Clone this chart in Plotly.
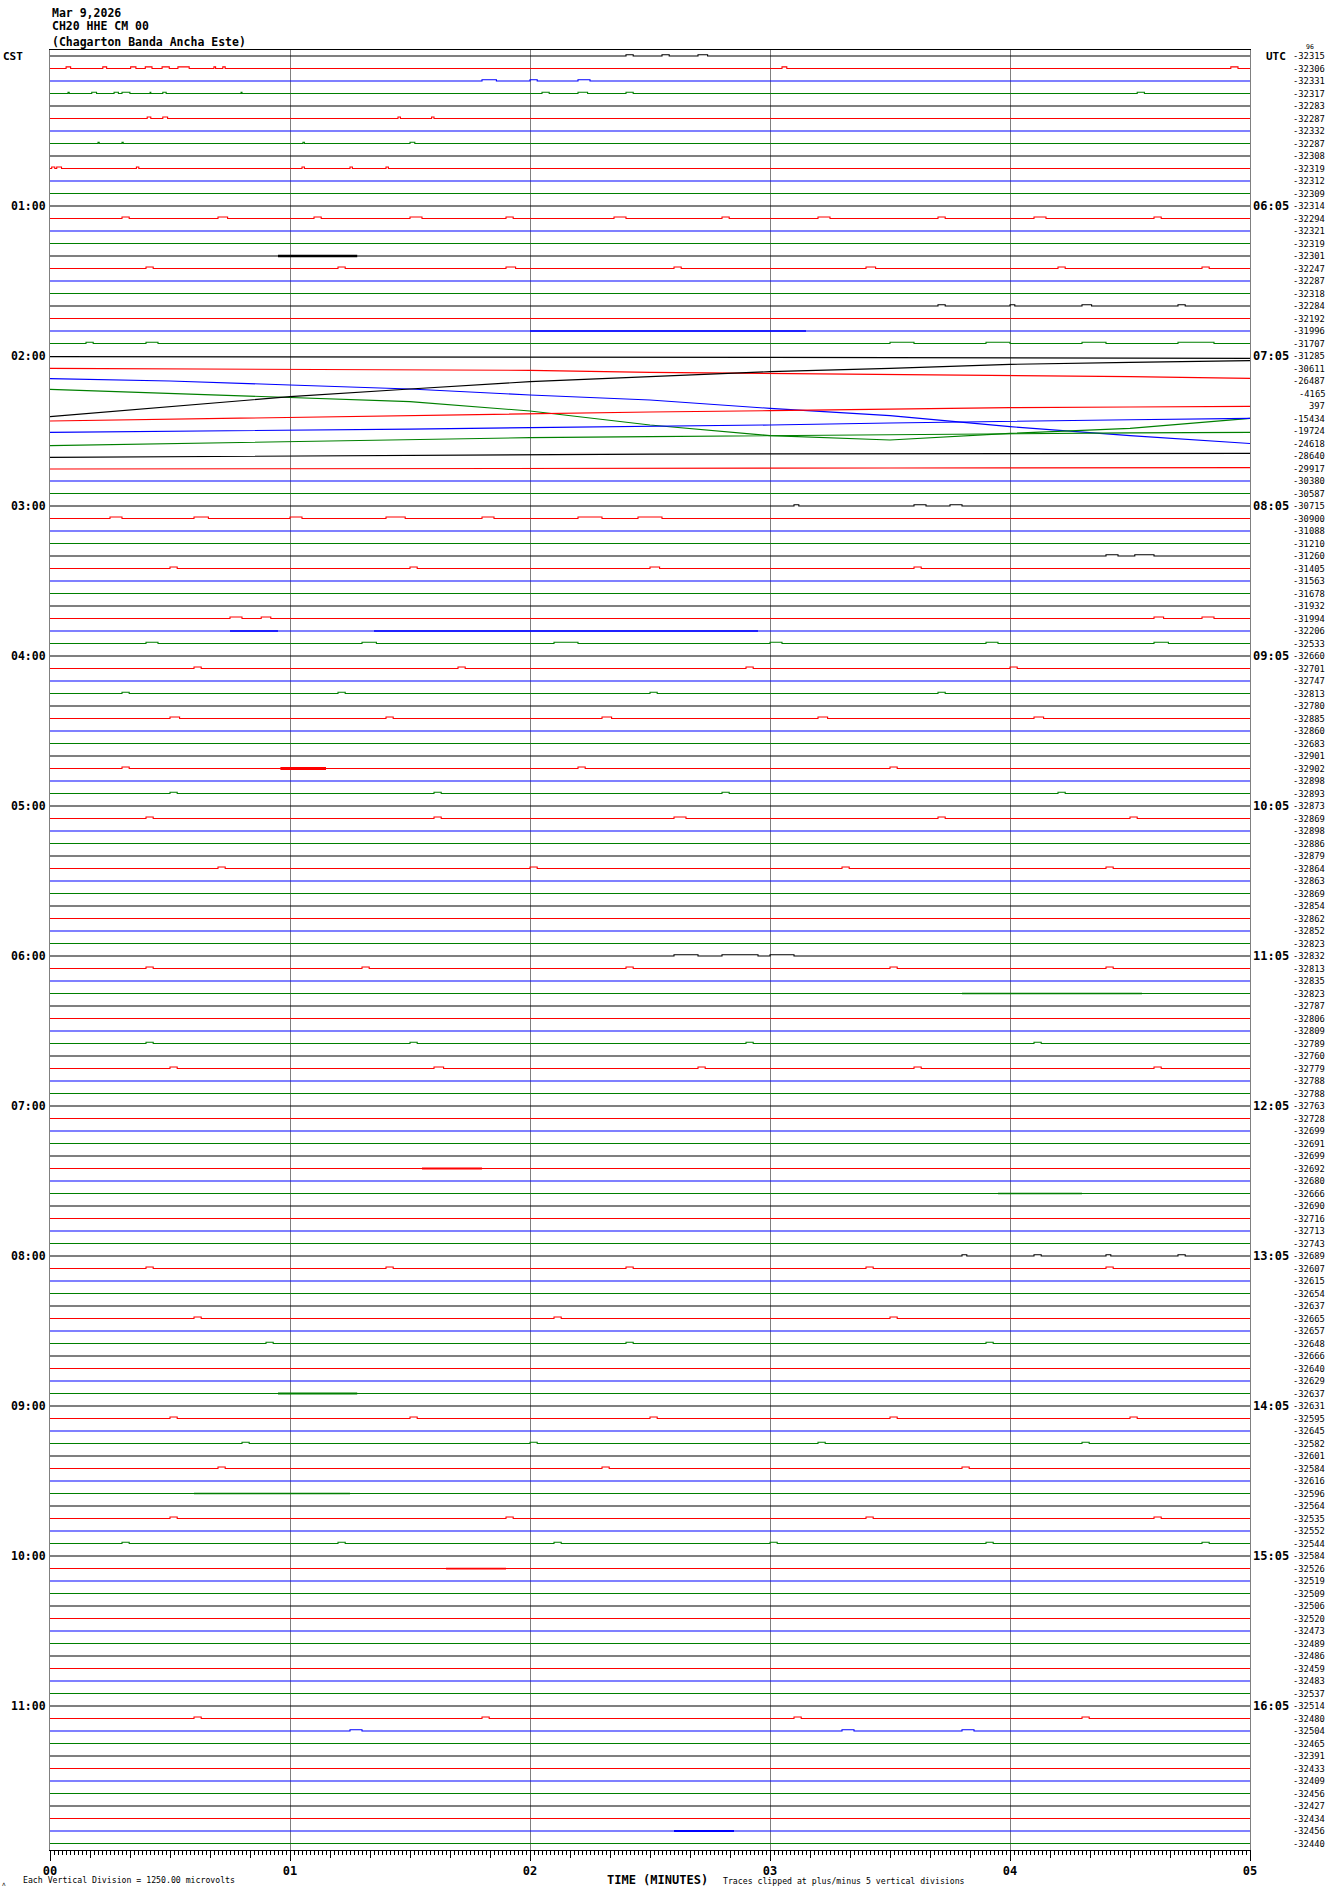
import plotly.graph_objects as go

# ---------------- data ----------------
N_ROWS = 144
ROW_COLORS = ["#000000", "#ff0000", "#0000ff", "#008000"]

RIGHT_VALUES = [
    -32315, -32306, -32331, -32317, -32283, -32287, -32332, -32287, -32308, -32319, -32312, -32309,
    -32314, -32294, -32321, -32319, -32301, -32247, -32287, -32318, -32284, -32192, -31996, -31707,
    -31285, -30611, -26487, -4165, 397, -15434, -19724, -24618, -28640, -29917, -30380, -30587,
    -30715, -30900, -31088, -31210, -31260, -31405, -31563, -31678, -31932, -31994, -32206, -32533,
    -32660, -32701, -32747, -32813, -32780, -32885, -32860, -32683, -32901, -32902, -32898, -32893,
    -32873, -32869, -32898, -32886, -32879, -32864, -32863, -32869, -32854, -32862, -32852, -32823,
    -32832, -32813, -32835, -32823, -32787, -32806, -32809, -32789, -32760, -32779, -32788, -32788,
    -32763, -32728, -32699, -32691, -32699, -32692, -32680, -32666, -32690, -32716, -32713, -32743,
    -32689, -32607, -32615, -32654, -32637, -32665, -32657, -32648, -32666, -32640, -32629, -32637,
    -32631, -32595, -32645, -32582, -32601, -32584, -32616, -32596, -32564, -32535, -32552, -32544,
    -32584, -32526, -32519, -32509, -32506, -32520, -32473, -32489, -32486, -32459, -32483, -32537,
    -32514, -32480, -32504, -32465, -32391, -32433, -32409, -32456, -32427, -32434, -32456, -32440,
]

HOUR_ROWS = [12, 24, 36, 48, 60, 72, 84, 96, 108, 120, 132]
LEFT_HOURS = ["01:00", "02:00", "03:00", "04:00", "05:00", "06:00",
              "07:00", "08:00", "09:00", "10:00", "11:00"]
RIGHT_HOURS = ["06:05", "07:05", "08:05", "09:05", "10:05", "11:05",
               "12:05", "13:05", "14:05", "15:05", "16:05"]

X_TICKS = [0, 1, 2, 3, 4, 5]
X_TICK_TEXT = ["00", "01", "02", "03", "04", "05"]

# slow drifting rows (offset in vertical divisions, read every half minute)
DRIFT_TIMES = [0, 0.5, 1, 1.5, 2, 2.5, 3, 3.5, 4, 4.5, 5]
DRIFT_24 = [-0.05, -0.05, -0.06, -0.07, -0.08, -0.09, -0.11, -0.13, -0.15, -0.17, -0.19]
DRIFT_25 = [0.01, -0.03, -0.07, -0.10, -0.15, -0.31, -0.39, -0.44, -0.52, -0.65, -0.79]
DRIFT_26 = [0.19, 0.0, -0.32, -0.64, -1.12, -1.52, -2.19, -2.77, -3.65, -4.37, -5.0]
DRIFT_27 = [0.33, 0.01, -0.31, -0.65, -1.40, -2.52, -3.37, -3.72, -3.19, -2.79, -1.99]
DRIFT_28 = [-0.85, -0.05, 0.75, 1.36, 1.95, 2.35, 2.75, 3.01, 3.33, 3.49, 3.63]
DRIFT_29 = [-0.20, -0.05, 0.09, 0.25, 0.41, 0.52, 0.63, 0.75, 0.87, 0.92, 0.97]
DRIFT_30 = [-0.11, -0.04, 0.03, 0.15, 0.27, 0.37, 0.48, 0.64, 0.80, 0.90, 1.01]
DRIFT_31 = [-0.17, -0.01, 0.15, 0.31, 0.47, 0.55, 0.63, 0.72, 0.81, 0.85, 0.89]
DRIFT_32 = [-0.11, -0.05, 0.0, 0.07, 0.13, 0.15, 0.17, 0.18, 0.19, 0.20, 0.21]
DRIFT_33 = [-0.04, -0.02, -0.01, 0.0, 0.01, 0.02, 0.03, 0.04, 0.05, 0.06, 0.07]
DRIFT_ROWS = {24: DRIFT_24, 25: DRIFT_25, 26: DRIFT_26, 27: DRIFT_27, 28: DRIFT_28,
              29: DRIFT_29, 30: DRIFT_30, 31: DRIFT_31, 32: DRIFT_32, 33: DRIFT_33}

# small step blips: (row, start minute, end minute, amplitude in divisions)
BLIPS = [
    (0, 2.40, 2.43, 0.10), (0, 2.55, 2.58, 0.10), (0, 2.70, 2.74, 0.10),
    (1, 0.067, 0.086, 0.13), (1, 0.22, 0.236, 0.13), (1, 0.336, 0.358, 0.13), (1, 0.397, 0.425, 0.13),
    (1, 0.467, 0.497, 0.13), (1, 0.533, 0.58, 0.13), (1, 0.683, 0.69, 0.13), (1, 0.72, 0.73, 0.13),
    (1, 3.05, 3.07, 0.13), (1, 4.92, 4.95, 0.13),
    (2, 1.80, 1.86, 0.10), (2, 2.00, 2.03, 0.10), (2, 2.20, 2.25, 0.10),
    (3, 0.075, 0.08, 0.10), (3, 0.174, 0.194, 0.10), (3, 0.267, 0.285, 0.10), (3, 0.30, 0.333, 0.10),
    (3, 0.417, 0.42, 0.10), (3, 0.47, 0.484, 0.10), (3, 0.796, 0.80, 0.10), (3, 2.05, 2.08, 0.10),
    (3, 2.20, 2.24, 0.10), (3, 2.40, 2.43, 0.10), (3, 4.53, 4.56, 0.10),
    (5, 0.405, 0.42, 0.12), (5, 0.47, 0.49, 0.12), (5, 1.45, 1.46, 0.12), (5, 1.59, 1.60, 0.12),
    (7, 0.20, 0.205, 0.10), (7, 0.30, 0.305, 0.10), (7, 1.054, 1.06, 0.10), (7, 1.50, 1.52, 0.10),
    (9, 0.007, 0.02, 0.12), (9, 0.028, 0.048, 0.12), (9, 0.36, 0.37, 0.12), (9, 1.05, 1.06, 0.12),
    (9, 1.25, 1.26, 0.12), (9, 1.40, 1.41, 0.12),
    (13, 0.30, 0.33, 0.12), (13, 0.70, 0.74, 0.12), (13, 1.10, 1.13, 0.12), (13, 1.50, 1.55, 0.12),
    (13, 1.90, 1.93, 0.12), (13, 2.35, 2.40, 0.12), (13, 2.80, 2.83, 0.12), (13, 3.20, 3.25, 0.12),
    (13, 3.70, 3.73, 0.12), (13, 4.10, 4.15, 0.12), (13, 4.60, 4.63, 0.12),
    (17, 0.40, 0.43, 0.12), (17, 1.20, 1.23, 0.12), (17, 1.90, 1.94, 0.12), (17, 2.60, 2.63, 0.12),
    (17, 3.40, 3.44, 0.12), (17, 4.20, 4.23, 0.12), (17, 4.80, 4.83, 0.12),
    (20, 3.70, 3.73, 0.10), (20, 4.00, 4.02, 0.10), (20, 4.30, 4.34, 0.10), (20, 4.70, 4.73, 0.10),
    (23, 0.15, 0.18, 0.10), (23, 0.40, 0.45, 0.10), (23, 3.50, 3.60, 0.10), (23, 3.90, 4.00, 0.10),
    (23, 4.30, 4.40, 0.10), (23, 4.70, 4.85, 0.10),
    (36, 3.10, 3.12, 0.10), (36, 3.60, 3.65, 0.10), (36, 3.75, 3.80, 0.10),
    (37, 0.25, 0.30, 0.12), (37, 0.60, 0.66, 0.12), (37, 1.00, 1.05, 0.12), (37, 1.40, 1.48, 0.12),
    (37, 1.80, 1.85, 0.12), (37, 2.20, 2.30, 0.12), (37, 2.45, 2.55, 0.12),
    (40, 4.40, 4.45, 0.10), (40, 4.52, 4.60, 0.10),
    (41, 0.50, 0.53, 0.12), (41, 1.50, 1.53, 0.12), (41, 2.50, 2.54, 0.12), (41, 3.60, 3.63, 0.12),
    (45, 0.75, 0.80, 0.12), (45, 0.88, 0.92, 0.12), (45, 4.60, 4.64, 0.12), (45, 4.80, 4.85, 0.12),
    (47, 0.40, 0.45, 0.10), (47, 1.30, 1.36, 0.10), (47, 2.10, 2.20, 0.10), (47, 3.00, 3.05, 0.10),
    (47, 3.90, 3.95, 0.10), (47, 4.60, 4.66, 0.10),
    (49, 0.60, 0.63, 0.12), (49, 1.70, 1.73, 0.12), (49, 2.90, 2.93, 0.12), (49, 4.00, 4.03, 0.12),
    (51, 0.30, 0.33, 0.10), (51, 1.20, 1.23, 0.10), (51, 2.50, 2.53, 0.10), (51, 3.70, 3.73, 0.10),
    (53, 0.50, 0.54, 0.12), (53, 1.40, 1.43, 0.12), (53, 2.30, 2.34, 0.12), (53, 3.20, 3.24, 0.12),
    (53, 4.10, 4.14, 0.12),
    (57, 0.30, 0.33, 0.12), (57, 2.20, 2.23, 0.12), (57, 3.50, 3.53, 0.12),
    (59, 0.50, 0.53, 0.10), (59, 1.60, 1.63, 0.10), (59, 2.80, 2.83, 0.10), (59, 4.20, 4.23, 0.10),
    (61, 0.40, 0.43, 0.12), (61, 1.60, 1.63, 0.12), (61, 2.60, 2.65, 0.12), (61, 3.70, 3.73, 0.12),
    (61, 4.50, 4.53, 0.12),
    (65, 0.70, 0.73, 0.12), (65, 2.00, 2.03, 0.12), (65, 3.30, 3.33, 0.12), (65, 4.40, 4.43, 0.12),
    (72, 2.60, 2.70, 0.10), (72, 2.80, 2.95, 0.10), (72, 3.00, 3.10, 0.10),
    (73, 0.40, 0.43, 0.12), (73, 1.30, 1.33, 0.12), (73, 2.40, 2.43, 0.12), (73, 3.50, 3.53, 0.12),
    (73, 4.40, 4.43, 0.12),
    (79, 0.40, 0.43, 0.10), (79, 1.50, 1.53, 0.10), (79, 2.90, 2.93, 0.10), (79, 4.10, 4.13, 0.10),
    (81, 0.50, 0.53, 0.12), (81, 1.60, 1.64, 0.12), (81, 2.70, 2.73, 0.12), (81, 3.60, 3.63, 0.12),
    (81, 4.60, 4.63, 0.12),
    (96, 3.80, 3.82, 0.10), (96, 4.10, 4.13, 0.10), (96, 4.40, 4.42, 0.10), (96, 4.70, 4.73, 0.10),
    (97, 0.40, 0.43, 0.12), (97, 1.40, 1.43, 0.12), (97, 2.40, 2.43, 0.12), (97, 3.40, 3.43, 0.12),
    (97, 4.40, 4.43, 0.12),
    (101, 0.60, 0.63, 0.12), (101, 2.10, 2.13, 0.12), (101, 3.50, 3.53, 0.12),
    (103, 0.90, 0.93, 0.10), (103, 2.40, 2.43, 0.10), (103, 3.90, 3.93, 0.10),
    (109, 0.50, 0.53, 0.12), (109, 1.50, 1.53, 0.12), (109, 2.50, 2.53, 0.12), (109, 3.50, 3.53, 0.12),
    (109, 4.50, 4.53, 0.12),
    (111, 0.80, 0.83, 0.10), (111, 2.00, 2.03, 0.10), (111, 3.20, 3.23, 0.10), (111, 4.30, 4.33, 0.10),
    (113, 0.70, 0.73, 0.12), (113, 2.30, 2.33, 0.12), (113, 3.80, 3.83, 0.12),
    (117, 0.50, 0.53, 0.12), (117, 1.90, 1.93, 0.12), (117, 3.40, 3.43, 0.12), (117, 4.60, 4.63, 0.12),
    (119, 0.30, 0.33, 0.10), (119, 1.20, 1.23, 0.10), (119, 2.10, 2.13, 0.10), (119, 3.00, 3.03, 0.10),
    (119, 3.90, 3.93, 0.10), (119, 4.80, 4.83, 0.10),
    (133, 0.60, 0.63, 0.12), (133, 1.80, 1.83, 0.12), (133, 3.10, 3.13, 0.12), (133, 4.30, 4.33, 0.12),
    (134, 1.25, 1.30, 0.10), (134, 3.30, 3.35, 0.10), (134, 3.80, 3.85, 0.10),
]

# short noisy bursts: (row, start minute, end minute, half amplitude in divisions)
BURSTS = [
    (16, 0.95, 1.28, 0.10), (22, 2.00, 3.15, 0.06), (46, 0.75, 0.95, 0.06), (46, 1.35, 2.95, 0.06),
    (57, 0.96, 1.15, 0.12), (75, 3.80, 4.55, 0.06), (89, 1.55, 1.80, 0.08), (91, 3.95, 4.30, 0.06),
    (107, 0.95, 1.28, 0.08), (115, 0.60, 1.25, 0.06), (121, 1.65, 1.90, 0.07), (142, 2.60, 2.85, 0.08),
]

# ---------------- layout geometry (pixels) ----------------
W, H = 1330, 1894
L, R, T, B = 50, 80, 50, 44
PLOT_H = H - T - B
ROW_PX = 12.5
Y_TOP = 6 / ROW_PX
Y_BOT = -(N_ROWS - 1) - (PLOT_H - 6 - (N_ROWS - 1) * ROW_PX) / ROW_PX


def ypaper(px):
    return (H - B - px) / PLOT_H


def xpaper(px):
    return (px - L) / (W - L - R)


FONT = "DejaVu Sans Mono"
GRID = "#808080"

fig = go.Figure()

# base rows
for i in range(N_ROWS):
    color = ROW_COLORS[i % 4]
    if i in DRIFT_ROWS:
        xs = DRIFT_TIMES
        ys = [-i + v for v in DRIFT_ROWS[i]]
    else:
        row_blips = sorted([b for b in BLIPS if b[0] == i], key=lambda b: b[1])
        xs, ys = [0], [-i]
        for _, t0, t1, a in row_blips:
            xs += [t0, t0, t1, t1]
            ys += [-i, -i + a, -i + a, -i]
        xs.append(5)
        ys.append(-i)
    fig.add_trace(go.Scatter(x=xs, y=ys, mode="lines", line=dict(color=color, width=1.1),
                             hoverinfo="skip", showlegend=False))

# noise bursts
for row, t0, t1, a in BURSTS:
    fig.add_trace(go.Scatter(x=[t0, t1], y=[-row, -row], mode="lines",
                             line=dict(color=ROW_COLORS[row % 4], width=2 * a * ROW_PX),
                             hoverinfo="skip", showlegend=False))

# helper trace for the 10-second tick axis
fig.add_trace(go.Scatter(x=[0, 5], y=[0, 0], xaxis="x2", mode="markers",
                         marker=dict(opacity=0), hoverinfo="skip", showlegend=False))

ann = []
for r, lab in zip(HOUR_ROWS, LEFT_HOURS):
    ann.append(dict(x=0, xref="paper", y=-r, yref="y", text=lab, showarrow=False,
                    xanchor="right", xshift=-2,
                    font=dict(family=FONT, size=11.5, color="black", weight="bold")))
for r, lab in zip(HOUR_ROWS, RIGHT_HOURS):
    ann.append(dict(x=1, xref="paper", y=-r, yref="y", text=lab, showarrow=False,
                    xanchor="left", xshift=1,
                    font=dict(family=FONT, size=12, color="black", weight="bold")))
for i, v in enumerate(RIGHT_VALUES):
    ann.append(dict(x=1, xref="paper", y=-i, yref="y", text=str(v), showarrow=False,
                    xanchor="right", xshift=77, font=dict(family=FONT, size=8.8, color="black")))

ann.append(dict(x=xpaper(1), xref="paper", y=0, yref="y", text="CST", showarrow=False,
                xanchor="left", font=dict(family=FONT, size=11, color="black", weight="bold")))
ann.append(dict(x=1, xref="paper", y=0, yref="y", text="UTC", showarrow=False, xanchor="left",
                xshift=14, font=dict(family=FONT, size=11, color="black", weight="bold")))
ann.append(dict(x=xpaper(1310), xref="paper", y=ypaper(47), yref="paper", text="96",
                showarrow=False, xanchor="center", yanchor="middle",
                font=dict(family=FONT, size=6.5, color="black")))

header = ["Mar 9,2026", "CH20 HHE CM 00", "(Chagarton Banda Ancha Este)"]
for txt, py in zip(header, [12.5, 26.5, 42]):
    ann.append(dict(x=0, xref="paper", y=ypaper(py), yref="paper", text=txt, showarrow=False,
                    xanchor="left", yanchor="middle",
                    font=dict(family=FONT, size=11.5, color="black", weight="bold")))

ann.append(dict(x=xpaper(657), xref="paper", y=ypaper(1880), yref="paper", text="TIME (MINUTES)",
                showarrow=False, xanchor="center", yanchor="middle",
                font=dict(family=FONT, size=12, color="black", weight="bold")))
ann.append(dict(x=xpaper(21), xref="paper", y=ypaper(1880), yref="paper",
                text="Each Vertical Division = 1250.00 microvolts", showarrow=False,
                xanchor="left", yanchor="middle", font=dict(family=FONT, size=8.2, color="black")))
ann.append(dict(x=xpaper(721), xref="paper", y=ypaper(1881), yref="paper",
                text="Traces clipped at plus/minus 5 vertical divisions", showarrow=False,
                xanchor="left", yanchor="middle", font=dict(family=FONT, size=8.2, color="black")))
ann.append(dict(x=xpaper(4), xref="paper", y=ypaper(1883), yref="paper", text="ʌ", showarrow=False,
                xanchor="center", yanchor="middle", font=dict(family=FONT, size=6, color="black")))

fig.update_layout(
    width=W, height=H,
    margin=dict(l=L, r=R, t=T, b=B, pad=0),
    paper_bgcolor="white", plot_bgcolor="white",
    showlegend=False,
    annotations=ann,
    xaxis=dict(range=[0, 5], tickmode="array", tickvals=X_TICKS, ticktext=X_TICK_TEXT,
               ticks="outside", ticklen=10, tickwidth=1, tickcolor="black",
               showgrid=True, gridcolor=GRID, gridwidth=1, zeroline=False,
               showline=True, linecolor="black", linewidth=1, mirror=True,
               tickfont=dict(family=FONT, size=12, color="black", weight="bold"),
               minor=dict(tickmode="linear", tick0=0, dtick=1 / 60, ticks="outside", ticklen=4,
                          tickcolor="black", tickwidth=1, showgrid=False)),
    xaxis2=dict(range=[0, 5], overlaying="x", anchor="y", side="bottom", tickmode="linear",
                tick0=0, dtick=1 / 6, ticks="outside", ticklen=7, tickcolor="black",
                showticklabels=False, showgrid=False, zeroline=False, showline=False),
    yaxis=dict(range=[Y_BOT, Y_TOP], showgrid=False, zeroline=False, showticklabels=False,
               ticks="", showline=True, linecolor=GRID, linewidth=1, mirror=True),
)

fig.write_html("out.html", config={"displayModeBar": False},
               post_script="document.body.style.margin='0';")
